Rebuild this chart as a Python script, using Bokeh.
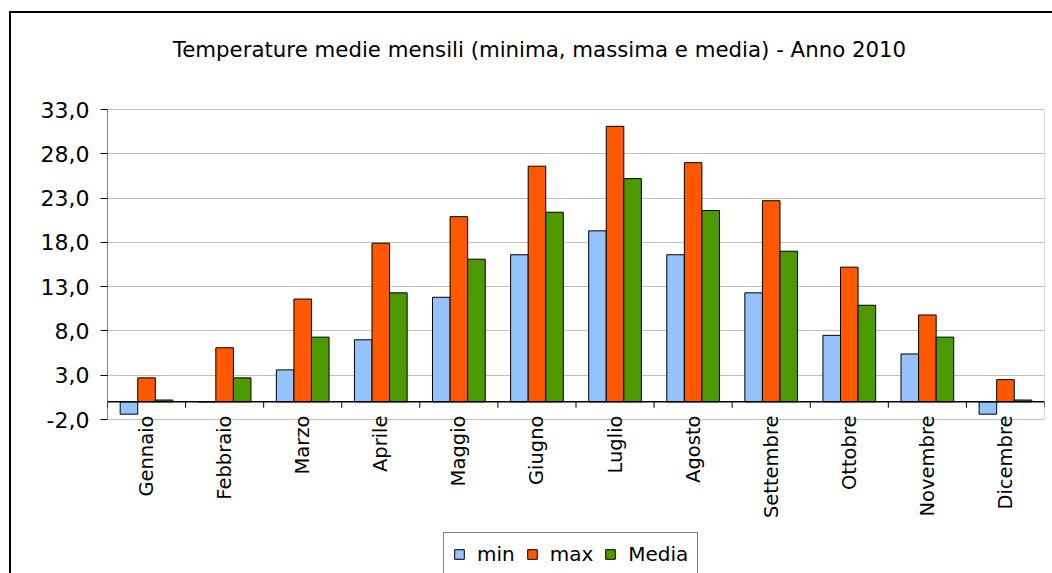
import math
from bokeh.plotting import figure
from bokeh.models import (Range1d, FixedTicker, Legend, LegendItem,
                          ColumnDataSource)
from bokeh.core.properties import value
from bokeh.transform import dodge
from bokeh.embed import file_html
from bokeh.resources import INLINE

months = ["Gennaio", "Febbraio", "Marzo", "Aprile", "Maggio", "Giugno",
          "Luglio", "Agosto", "Settembre", "Ottobre", "Novembre", "Dicembre"]
t_min = [-1.4, 0.0, 3.6, 7.0, 11.8, 16.6, 19.3, 16.6, 12.3, 7.5, 5.4, -1.4]
t_max = [2.7, 6.1, 11.6, 17.9, 20.9, 26.6, 31.1, 27.0, 22.7, 15.2, 9.8, 2.5]
t_media = [0.2, 2.7, 7.3, 12.3, 16.1, 21.4, 25.2, 21.6, 17.0, 10.9, 7.3, 0.2]
y_ticks = [-2.0, 3.0, 8.0, 13.0, 18.0, 23.0, 28.0, 33.0]
y_tick_labels = ["-2,0", "3,0", "8,0", "13,0", "18,0", "23,0", "28,0", "33,0"]
series_names = ["min", "max", "Media"]
series_colors = ["#93c2fd", "#ff5800", "#4c9a00"]
title_text = "Temperature medie mensili (minima, massima e media) - Anno 2010"

FONT = "DejaVu Sans"
W, H = 1052, 573
# plot-area placement in pixels
PL, PR, PT, PB = 107, 1044, 109, 419
n = len(months)
centers = [i + 0.5 for i in range(n)]
bounds = [float(i) for i in range(n + 1)]
bw = 0.225

ppu = (PB - PT) / (y_ticks[-1] - y_ticks[0])          # pixels per unit
y_top = y_ticks[-1] + PT / ppu
y_bot = y_ticks[0] - (H - PB) / ppu
ppx = (PR - PL) / n
def px_x(px):
    return (px - PL) / ppx
def px_y(py):
    return y_ticks[0] + (PB - py) / ppu

p = figure(width=W, height=H, output_backend="svg", toolbar_location=None,
           x_range=Range1d(0, n), y_range=Range1d(y_bot, y_top),
           x_axis_location=None,
           min_border_left=PL, min_border_right=W - PR, min_border_top=0,
           min_border_bottom=0, background_fill_color=None,
           border_fill_color=None)
p.title = None
p.styles = {"box-shadow": "inset 9px 11px 0 0 white, inset 11px 13px 0 0 black",
            "background-color": "white"}
p.outline_line_color = None
p.xgrid.visible = False
p.ygrid.ticker = FixedTicker(ticks=y_ticks)
p.ygrid.grid_line_color = "#c0c0c0"

# y axis
ya = p.yaxis[0]
ya.ticker = FixedTicker(ticks=y_ticks)
ya.major_label_overrides = {t: l for t, l in zip(y_ticks, y_tick_labels)}
ya.major_label_text_font = FONT
ya.major_label_text_font_size = "22px"
ya.major_label_text_color = "black"
ya.axis_line_color = None
ya.major_tick_line_color = "black"
ya.major_tick_out = 7
ya.major_tick_in = 0
ya.minor_tick_line_color = None
ya.major_label_standoff = 11

# plot-area edges: black value axis on the left, grey edge on the right
p.segment(x0=[0, n], y0=[y_ticks[0]] * 2, x1=[0, n], y1=[y_ticks[-1]] * 2,
          line_color=["black", "#c0c0c0"], line_width=1)

src = ColumnDataSource(dict(x=centers, mn=t_min, mx=t_max, md=t_media))
renderers = []
for k, (col, color) in enumerate(zip(["mn", "mx", "md"], series_colors)):
    r = p.vbar(x=dodge("x", (k - 1) * bw, range=p.x_range), top=col, bottom=0,
               width=bw, source=src, fill_color=color, line_color="black",
               line_width=1)
    renderers.append(r)

# category axis line at zero with tick marks between the months
p.segment(x0=[0], y0=[0], x1=[n], y1=[0], line_color="black", line_width=1.5)
tick_len = 6 / ppu
p.segment(x0=bounds, y0=[0] * len(bounds), x1=bounds, y1=[-tick_len] * len(bounds),
          line_color="black", line_width=1)

# month labels, rotated, just below the plot area
lab_src = ColumnDataSource(dict(x=centers, y=[px_y(PB - 4)] * n, t=months))
p.text(x="x", y="y", text="t", source=lab_src, angle=math.pi / 2,
       text_align="right", text_baseline="middle", text_font=value(FONT),
       text_font_size="19.5px", text_color="black")

# chart title
p.text(x=[px_x(539)], y=[px_y(49)], text=[title_text], text_align="center",
       text_baseline="alphabetic", text_font=value(FONT), text_font_size="21.3px",
       text_color="black")

legend = Legend(items=[LegendItem(label=s, renderers=[r]) for s, r in zip(series_names, renderers)],
                orientation="horizontal", location=(443 - PL, -3),
                label_text_font=FONT, label_text_font_size="20px",
                label_text_color="black",
                glyph_width=12, glyph_height=12, label_standoff=12, spacing=11,
                padding=9, margin=0, border_line_color="black", border_line_width=1,
                background_fill_color="white", background_fill_alpha=1)
p.add_layout(legend, "center")

open("out.html", "w").write(file_html(p, INLINE))
